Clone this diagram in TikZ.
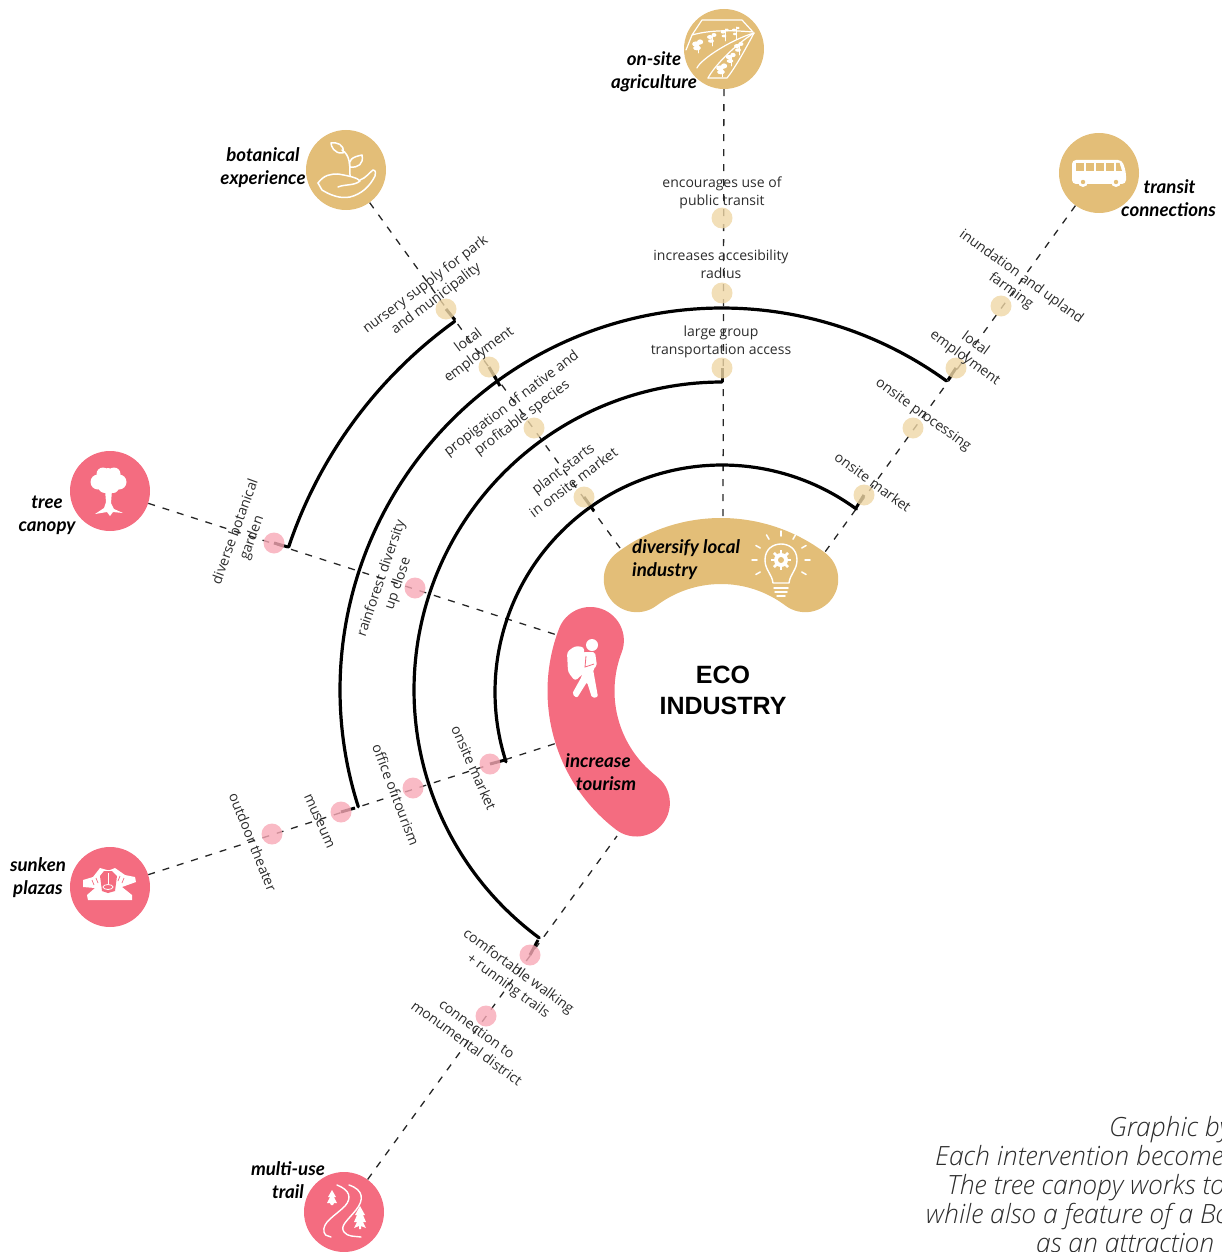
\documentclass[tikz,border=0pt]{standalone}
\usepackage{fontspec}
\setmainfont{Open Sans}
\newfontfamily\lato{Lato}
\newfontfamily\capfont{Open Sans Light Italic}
\newfontfamily\heavy{Liberation Sans}
\usetikzlibrary{calc}
\definecolor{pinkc}{HTML}{F46C80}
\definecolor{goldc}{HTML}{E3BE78}
\definecolor{paleg}{HTML}{EFD7A6}
\definecolor{palep}{HTML}{F8A9B6}
\definecolor{labc}{HTML}{2C2C2C}
\pgfdeclarelayer{bg}
\pgfsetlayers{bg,main}
\tikzset{
 big/.style={circle,minimum size=80pt,inner sep=0pt,fill=#1},
 dotn/.style={circle,minimum size=21pt,inner sep=0pt,fill=#1,fill opacity=.8},
 lab/.style={font=\fontsize{14}{17.5}\selectfont,text=labc,align=center,inner sep=0pt},
 tag/.style={font=\lato\bfseries\itshape\fontsize{18.7}{23}\selectfont,text=black,align=center,inner sep=0pt},
 capn/.style={font=\capfont\fontsize{26.5}{29}\selectfont,text=labc,anchor=base west,inner sep=0pt},
 dashl/.style={line width=1.3pt,dash pattern=on 7pt off 8pt,black!85},
 arcl/.style={line width=3.2pt,black,line cap=round},
 tick/.style={line width=3pt,black},
 ico/.style={white,line width=1.5pt,line cap=round,line join=round},
 icof/.style={white,fill=white,line width=.8pt,line join=round},
}
\begin{document}
\begin{tikzpicture}[x=1pt,y=-1pt]
\useasboundingbox (0,0) rectangle (1221,1252);
% big circles
\node[big=goldc] (farm) at (724,49) {};
\node[big=goldc] (bot) at (346,170) {};
\node[big=goldc] (bus) at (1099,173) {};
\node[big=pinkc] (tree) at (110,491) {};
\node[big=pinkc] (plaza) at (110,887) {};
\node[big=pinkc] (trail) at (344,1212) {};
% blob anchors
\coordinate (gtop) at (723,520);
\coordinate (gleft) at (620,548);
\coordinate (gright) at (825,552);
\coordinate (ptop) at (557,635);
\coordinate (pmid) at (557,743);
\coordinate (pbot) at (617,836);
% blobs
\draw[goldc,line width=66pt,line cap=round,line join=round] plot[domain=53:127,samples=60] ({721+140*cos(\x)},{691-140*sin(\x)});
\draw[pinkc,line width=67pt,line cap=round,line join=round] plot[domain=159:232.6,samples=60] ({722+141*cos(\x)},{691-141*sin(\x)});
% dots
\foreach \n/\x/\y in {d1/722/218,d2/722/293,d3/722/368,t1/1001/306,t2/956/368,t3/913/428,t4/864/495,b1/446/309,b2/489/367,b3/534/428,b4/584/497}
  \node[dotn=paleg] (\n) at (\x,\y) {};
\foreach \n/\x/\y in {r1/274/543,r2/415/588,s1/272/834,s2/341/812,s3/413/788,s4/490/764,m1/486/1016,m2/530/955}
  \node[dotn=palep] (\n) at (\x,\y) {};
% arc ends
\coordinate (a1r) at (856,508);
\coordinate (a1l) at (505,760);
\coordinate (a2t) at (722,382);
\coordinate (a2b) at (538,940);
\coordinate (a3r) at (948,380);
\coordinate (a3l) at (355,808);
\coordinate (a4t) at (455,320);
\coordinate (a4b) at (288,547);
\coordinate (x3) at (500,386);
\coordinate (x1) at (594,511);
\begin{pgfonlayer}{bg}
 \draw[dashl] (farm) -- (gtop);
 \draw[dashl] (bot) -- (gleft);
 \draw[dashl] (bus) -- (gright);
 \draw[dashl] (tree) -- (ptop);
 \draw[dashl] (plaza) -- (pmid);
 \draw[dashl] (trail) -- (pbot);
 \draw[arcl] plot[domain=53.7:197.9,samples=120] ({722+227*cos(\x)},{692-227*sin(\x)});
 \draw[arcl] plot[domain=90:233.6,samples=120] ({722+308*cos(\x)},{690-308*sin(\x)});
 \draw[arcl] plot[domain=54:197.8,samples=140] ({722+382*cos(\x)},{690-382*sin(\x)});
 \draw[arcl] plot[domain=125.8:161.5,samples=60] ({722+457*cos(\x)},{692-457*sin(\x)});
 \foreach \a/\b in {t4/a1r,s4/a1l,d3/a2t,m2/a2b,t2/a3r,s2/a3l,b1/a4t,r1/a4b,b2/x3,b4/x1}
   \draw[tick] (\a.center) -- (\b);
\end{pgfonlayer}
% labels
\node[lab] (l1) at (722,193) {encourages use of\\public transit};
\node[lab] (l2) at (721,264) {increases accesibility\\radius};
\node[lab] (l3) at (721,342) {large group\\transportation access};
\node[lab,rotate=37] (l4) at (431,292) {nursery supply for park\\and municipality};
\node[lab,rotate=37] (l5) at (474,348) {local\\employment};
\node[lab,rotate=37] (l6) at (517,411) {propigation of native and\\profitable species};
\node[lab,rotate=37] (l7) at (568,475) {plant starts\\in onsite market};
\node[lab,rotate=-36] (l8) at (1016,284) {inundation and upland\\farming};
\node[lab,rotate=-36] (l9) at (970,351) {local\\employment};
\node[lab,rotate=-36] (l10) at (923,415) {onsite processing};
\node[lab,rotate=-36] (l11) at (873,482) {onsite market};
\node[lab,rotate=70] (l12) at (244,535) {diverse botanical\\garden};
\node[lab,rotate=71] (l13) at (390,581) {rainforest diversity\\up close};
\node[lab,rotate=-66] (l14) at (474,768) {onsite market};
\node[lab,rotate=-69] (l15) at (396,795) {office of tourism};
\node[lab,rotate=-66] (l16) at (319,821) {museum};
\node[lab,rotate=-68] (l17) at (253,842) {outdoor theater};
\node[lab,rotate=-36] (l18) at (513,979) {comfortable walking\\+ running trails};
\node[lab,rotate=-36] (l19) at (472,1036) {connection to\\monumental district};
% tags
\node[tag] (n1) at (654,72) {on-site\\agriculture};
\node[tag] (n2) at (263,168) {botanical\\experience};
\node[tag,anchor=north west,align=center] (n3) at (1121,179) {\hspace*{2pt}transit\\connections};
\node[tag] (n4) at (47,515) {tree\\canopy};
\node[tag] (n5) at (38,878) {sunken\\plazas};
\node[tag] (n6) at (288,1180) {multi-use\\trail};
\node[tag,align=left,anchor=west] (n7) at (632,560) {diversify local\\industry};
\node[tag] (n8) at (602,772) {\hspace*{-8pt}increase\\\hspace*{8pt}tourism};
\node[font=\heavy\bfseries\fontsize{25}{31}\selectfont,align=center,inner sep=0pt] (eco) at (723,690) {ECO\\INDUSTRY};
% caption
\node[capn] (c1) at (1109,1136) {Graphic by};
\node[capn] (c2) at (935,1165) {Each intervention becomes};
\node[capn] (c3) at (947,1194) {The tree canopy works to};
\node[capn] (c4) at (926,1223.5) {while also a feature of a Bo};
\node[capn] (c5) at (1036,1252.5) {as an attraction};
% ICONS
% field
\draw[ico,line width=1.2pt] (692,35) -- (702,20) -- (742,20) -- (753,32) .. controls (730,30) and (710,30) .. (692,35);
\draw[ico,line width=1.2pt] (754,33) .. controls (730,40) and (700,60) .. (697,68);
\draw[ico,line width=1.2pt] (754,33) .. controls (735,45) and (715,65) .. (708,78);
\draw[ico,line width=1.2pt] (754,33) .. controls (745,50) and (735,68) .. (727,78) -- (708,78);
\draw[ico,line width=1.2pt] (692,35) -- (686,50);
\foreach \p/\q/\s in {698/44/1.3,712/37/1,725/32/.8,736/30/.7,739/46/1,731/57/1.1,722/68/1.3}{
 \fill[white] (\p-2,\q) ellipse ({3*\s} and {2*\s});
 \fill[white] (\p+2,\q-2) ellipse ({2.4*\s} and {2*\s});
 \fill[white] (\p-1,\q+4) ellipse ({3*\s} and {1.8*\s});
 \draw[ico,line width=.8pt] (\p,\q-3) -- (\p,\q+9);
}
% hand and sprout
\draw[ico] (318,183) .. controls (324,175) and (330,174) .. (338,174) .. controls (350,176) and (358,178) .. (360,181) .. controls (354,186) and (345,184) .. (338,187);
\draw[ico] (360,180) .. controls (366,178) and (370,172) .. (373,170) .. controls (376,170) and (376,174) .. (375,176) .. controls (370,186) and (362,194) .. (350,197) .. controls (340,199) and (330,195) .. (322,190) -- (318,183);
\draw[ico] (350,176) .. controls (350,165) and (350,155) .. (342,150);
\draw[ico] (343,153) .. controls (334,154) and (331,146) .. (331,143) .. controls (336,142) and (345,144) .. (343,153);
\draw[ico] (350,167) .. controls (348,160) and (352,157) .. (362,155) .. controls (364,164) and (358,168) .. (350,167);
% bus
\fill[white,rounded corners=4pt] (1072,160) -- (1122,160) -- (1126,172) -- (1126,184) -- (1072,184) -- cycle;
\foreach \u in {1076,1086,1096,1106}{\fill[goldc] (\u,163) rectangle (\u+7.5,171);}
\fill[goldc] (1116,163) -- (1119.5,163) -- (1122,171) -- (1116,171) -- cycle;
\fill[white] (1083,182) circle (5pt); \fill[goldc] (1083,182) circle (2.2pt);
\fill[white] (1116,182) circle (5pt); \fill[goldc] (1116,182) circle (2.2pt);
% tree
\fill[white] (108,477) circle (9pt) (98,482) circle (7.5pt) (119,482) circle (7.5pt) (103,474) circle (6.5pt) (114,474) circle (6.5pt) (105,486) circle (7pt) (113,487) circle (6pt);
\fill[white] (105,490) -- (112,490) -- (111,503) -- (114,509) -- (123,513) -- (113,512) -- (110,516) -- (107,512) -- (95,514) -- (104,508) -- (106,502) -- cycle;
% plaza
\fill[white] (88,900) -- (132,900) -- (132,895) -- (122,887) -- (136,882) -- (135,877) -- (125,875) -- (115,868) -- (110,870) -- (107,870) -- (100,868) -- (93,877) -- (83,880) -- (83,887) -- (95,888) -- (87,895) -- cycle;
\fill[pinkc] (100,876) -- (104,871) -- (112,871) -- (117,876) -- (115,891) -- (108,893) -- (102,891) -- cycle;
\draw[white,line width=.8pt] (108,873) -- (108,884);
\draw[white,line width=.8pt] (108,887) ellipse (5pt and 2.5pt);
\draw[pinkc,line width=.7pt] (92,880) -- (94,885) (96,878) -- (98,883) (124,878) -- (122,883) (120,876) -- (118,881);
% trails
\draw[ico,line width=1.4pt] (337,1185) .. controls (350,1190) and (352,1198) .. (345,1206) .. controls (335,1216) and (322,1222) .. (324,1232) .. controls (326,1238) and (328,1234) .. (331,1237);
\draw[ico,line width=1.4pt] (349,1185) .. controls (364,1190) and (364,1200) .. (356,1210) .. controls (346,1222) and (340,1226) .. (344,1232) .. controls (348,1237) and (354,1236) .. (361,1237);
\fill[white] (332,1190) -- (336,1197) -- (334,1197) -- (337,1203) -- (334,1203) -- (333,1205) -- (331,1205) -- (330,1203) -- (327,1203) -- (330,1197) -- (328,1197) -- cycle;
\fill[white] (360,1206) -- (365,1215) -- (363,1215) -- (366,1222) -- (363,1222) -- (366,1228) -- (361,1226) -- (361,1229) -- (359,1229) -- (359,1226) -- (354,1228) -- (357,1222) -- (354,1222) -- (357,1215) -- (355,1215) -- cycle;
% bulb
\draw[ico,line width=1.4pt] (773,583) .. controls (772,574) and (765,570) .. (765,560) .. controls (765,549) and (773,544) .. (781,544) .. controls (789,544) and (797,549) .. (797,560) .. controls (797,570) and (790,574) .. (789,583) -- cycle;
\draw[ico] (774,588) -- (788,588) (775,592) -- (787,592) (777,596) -- (785,596);
\fill[white] (781,560) circle (7pt);
\foreach \a in {0,45,...,315}{\draw[white,line width=2.6pt] (781,560) -- ++(\a:10pt);}
\fill[goldc] (781,560) circle (3pt);
\foreach \a in {0,30,60,90,120,150,180,210,-30}{\draw[ico] ($(781,560)+(\a:24pt)$) -- ($(781,560)+(\a:29pt)$);}
% hiker
\fill[white] (592,645) circle (6pt);
\fill[white,rounded corners=3pt] (567,652) -- (575,646) -- (584,647) -- (585,672) -- (575,681) -- (568,672) -- cycle;
\fill[white,rounded corners=2pt] (583,652) -- (595,652) -- (597,666) -- (593,669) -- (598,697) -- (592,698) -- (587,682) -- (577,698) -- (572,694) -- (582,676) -- cycle;
\draw[pinkc,line width=.8pt] (586,656) -- (585,667) -- (594,664);
\end{tikzpicture}
\end{document}
